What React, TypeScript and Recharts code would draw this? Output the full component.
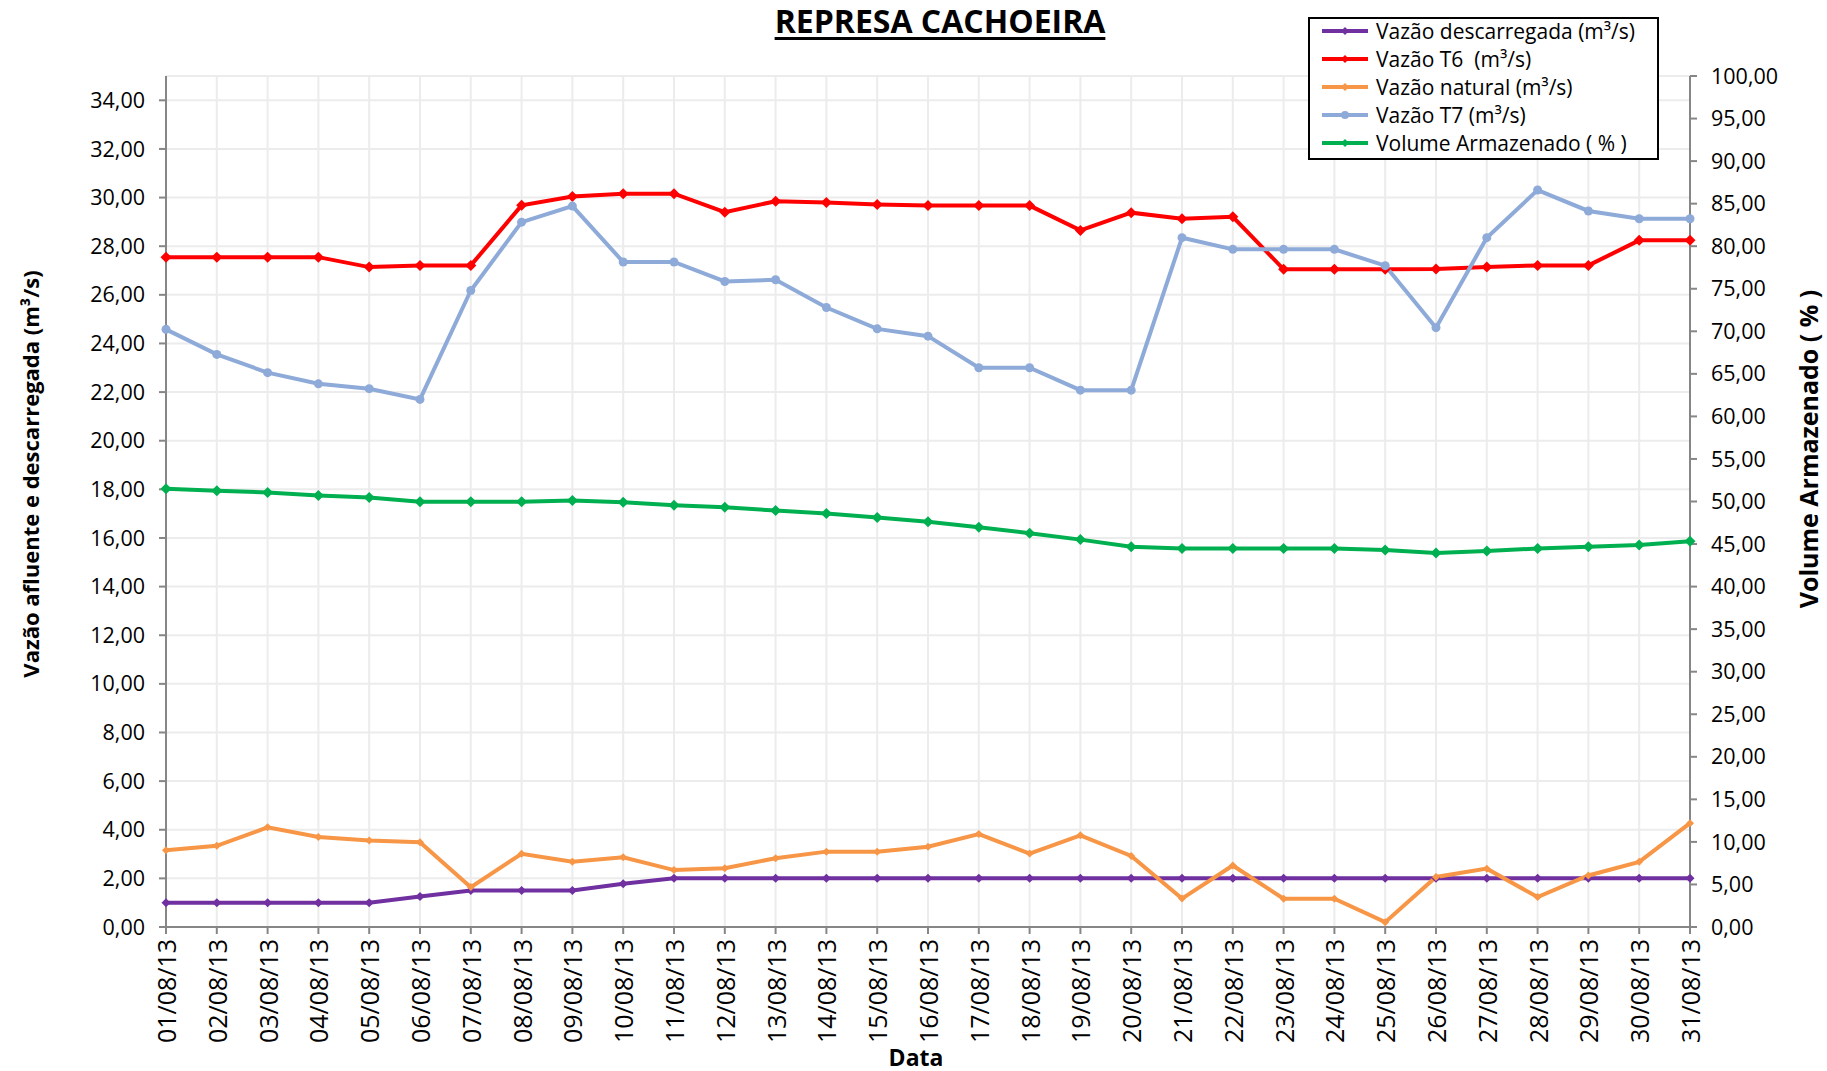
import React from 'react';
import { LineChart, Line, XAxis, YAxis, CartesianGrid } from 'recharts';

const dates = [
    '01/08/13', '02/08/13', '03/08/13', '04/08/13', '05/08/13', '06/08/13', '07/08/13', '08/08/13',
    '09/08/13', '10/08/13', '11/08/13', '12/08/13', '13/08/13', '14/08/13', '15/08/13', '16/08/13',
    '17/08/13', '18/08/13', '19/08/13', '20/08/13', '21/08/13', '22/08/13', '23/08/13', '24/08/13',
    '25/08/13', '26/08/13', '27/08/13', '28/08/13', '29/08/13', '30/08/13', '31/08/13'
];

// m³/s (left axis)
const vazaoDescarregada = [
    1.0, 1.0, 1.0, 1.0, 1.0, 1.25, 1.5, 1.5, 1.5, 1.78, 2.0, 2.0, 2.0, 2.0, 2.0, 2.0,
    2.0, 2.0, 2.0, 2.0, 2.0, 2.0, 2.0, 2.0, 2.0, 2.0, 2.0, 2.0, 2.0, 2.0, 2.0
];
const vazaoT6 = [
    27.55, 27.55, 27.55, 27.55, 27.14, 27.21, 27.21, 29.68, 30.04, 30.16, 30.16, 29.4, 29.85, 29.8, 29.72, 29.67,
    29.67, 29.67, 28.65, 29.38, 29.13, 29.21, 27.05, 27.05, 27.05, 27.06, 27.14, 27.21, 27.21, 28.24, 28.24
];
const vazaoNatural = [
    3.16, 3.34, 4.1, 3.7, 3.56, 3.49, 1.64, 3.01, 2.68, 2.87, 2.34, 2.42, 2.83, 3.1, 3.1, 3.3,
    3.82, 3.02, 3.77, 2.92, 1.17, 2.53, 1.16, 1.16, 0.2, 2.06, 2.4, 1.23, 2.12, 2.68, 4.27
];
const vazaoT7 = [
    24.58, 23.55, 22.8, 22.34, 22.14, 21.7, 26.18, 28.99, 29.65, 27.35, 27.35, 26.55, 26.62, 25.48, 24.6, 24.3,
    23.0, 23.0, 22.08, 22.08, 28.35, 27.87, 27.87, 27.87, 27.2, 24.65, 28.35, 30.31, 29.45, 29.13, 29.13
];
// % (right axis)
const volumeArmazenado = [
    51.5, 51.26, 51.06, 50.7, 50.46, 49.96, 49.96, 49.96, 50.12, 49.92, 49.57, 49.33, 48.94, 48.59, 48.12, 47.61,
    46.98, 46.28, 45.52, 44.68, 44.48, 44.48, 44.48, 44.48, 44.3, 43.95, 44.18, 44.48, 44.68, 44.88, 45.32
];

const leftTicks = [0, 2, 4, 6, 8, 10, 12, 14, 16, 18, 20, 22, 24, 26, 28, 30, 32, 34];
const rightTicks = [0, 5, 10, 15, 20, 25, 30, 35, 40, 45, 50, 55, 60, 65, 70, 75, 80, 85, 90, 95, 100];

const data = dates.map((date, i) => ({
    date,
    descarregada: vazaoDescarregada[i],
    t6: vazaoT6[i],
    natural: vazaoNatural[i],
    t7: vazaoT7[i],
    volume: volumeArmazenado[i],
}));

const FONT = '"Open Sans", "Noto Sans", sans-serif';
const AXIS_GREY = '#868686';

const series = [
    { key: 'descarregada', name: 'Vazão descarregada (m³/s)', color: '#7030a0', axis: 'left', shape: 'diamond', r: 4.5 },
    { key: 't6', name: 'Vazão T6  (m³/s)', color: '#ff0000', axis: 'left', shape: 'diamond', r: 5.5 },
    { key: 'natural', name: 'Vazão natural (m³/s)', color: '#f79646', axis: 'left', shape: 'diamond', r: 4 },
    { key: 't7', name: 'Vazão T7 (m³/s)', color: '#8eaad8', axis: 'left', shape: 'circle', r: 4.5 },
    { key: 'volume', name: 'Volume Armazenado ( % )', color: '#00b050', axis: 'right', shape: 'diamond', r: 5.5 },
];

const fmt = (v: number) => v.toFixed(2).replace('.', ',');

function Marker({ cx, cy, r, color, shape }: any) {
    if (cx == null || cy == null) return null;
    if (shape === 'circle') return <circle cx={cx} cy={cy} r={r} fill={color} />;
    return (
        <polygon
            points={`${cx},${cy - r} ${cx + r},${cy} ${cx},${cy + r} ${cx - r},${cy}`}
            fill={color}
        />
    );
}

function DateTick({ x, y, payload }: any) {
    return (
        <text
            x={x}
            y={y}
            transform={`rotate(-90, ${x}, ${y})`}
            textAnchor="end"
            dominantBaseline="central"
            fontFamily={FONT}
            fontSize={25}
            fill="#000"
        >
            {payload.value}
        </text>
    );
}

function LegendBox() {
    return (
        <div
            style={{
                position: 'absolute',
                left: 1308,
                top: 17,
                width: 351,
                height: 143,
                boxSizing: 'border-box',
                border: '2px solid #000',
                background: '#fff',
                padding: '0 0 0 10px',
                fontFamily: FONT,
                fontSize: 21,
            }}
        >
            {series.map((s, i) => (
                <div key={s.key} style={{ display: 'flex', alignItems: 'center', height: 28, marginTop: i === 0 ? -2 : 0 }}>
                    <svg width={50} height={14} style={{ marginRight: 6 }}>
                        <line x1={2} y1={7} x2={48} y2={7} stroke={s.color} strokeWidth={4} />
                        <Marker cx={25} cy={7} r={4} color={s.color} shape={s.shape} />
                    </svg>
                    <span style={{ whiteSpace: 'pre' }}>{s.name}</span>
                </div>
            ))}
        </div>
    );
}

export default function App() {
    return (
        <div style={{ position: 'relative', width: 1827, height: 1071, background: '#fff' }}>
            <style>{'body { margin: 0; }'}</style>
            <LineChart
                width={1827}
                height={1071}
                data={data}
                margin={{ top: 76, right: 0, bottom: 0, left: 0 }}
            >
                <CartesianGrid yAxisId="left" stroke="#ececec" strokeWidth={2} />
                <XAxis
                    dataKey="date"
                    scale="point"
                    interval={0}
                    height={144}
                    tick={<DateTick />}
                    tickSize={7}
                    tickMargin={5}
                    axisLine={{ stroke: AXIS_GREY, strokeWidth: 2 }}
                    tickLine={{ stroke: AXIS_GREY, strokeWidth: 2 }}
                />
                <YAxis
                    yAxisId="left"
                    orientation="left"
                    width={166}
                    domain={[0, 35]}
                    ticks={leftTicks}
                    tickFormatter={fmt}
                    tickSize={7}
                    tickMargin={14}
                    tick={{ fontFamily: FONT, fontSize: 21.5, fill: '#000' }}
                    axisLine={{ stroke: AXIS_GREY, strokeWidth: 2 }}
                    tickLine={{ stroke: AXIS_GREY, strokeWidth: 2 }}
                />
                <YAxis
                    yAxisId="right"
                    orientation="right"
                    width={137}
                    domain={[0, 100]}
                    ticks={rightTicks}
                    tickFormatter={fmt}
                    tickSize={7}
                    tickMargin={14}
                    tick={{ fontFamily: FONT, fontSize: 21.5, fill: '#000' }}
                    axisLine={{ stroke: AXIS_GREY, strokeWidth: 2 }}
                    tickLine={{ stroke: AXIS_GREY, strokeWidth: 2 }}
                />
                {series.map((s) => (
                    <Line
                        key={s.key}
                        yAxisId={s.axis}
                        type="linear"
                        dataKey={s.key}
                        name={s.name}
                        stroke={s.color}
                        strokeWidth={4}
                        dot={(p: any) => (
                            <Marker key={`${s.key}-${p.index}`} cx={p.cx} cy={p.cy} r={s.r} color={s.color} shape={s.shape} />
                        )}
                        activeDot={false}
                        isAnimationActive={false}
                    />
                ))}
            </LineChart>

            {/* title */}
            <div
                style={{
                    position: 'absolute',
                    left: 0,
                    width: 1880,
                    top: 0,
                    textAlign: 'center',
                    fontFamily: FONT,
                    fontWeight: 700,
                    fontSize: 32,
                    lineHeight: '42px',
                    textDecoration: 'underline',
                    textDecorationThickness: 3,
                    textUnderlineOffset: 4,
                }}
            >
                REPRESA CACHOEIRA
            </div>

            <LegendBox />

            {/* axis titles */}
            <div
                style={{
                    position: 'absolute',
                    left: 30,
                    top: 474,
                    transform: 'translate(-50%, -50%) rotate(-90deg)',
                    whiteSpace: 'nowrap',
                    fontFamily: FONT,
                    fontWeight: 700,
                    fontSize: 22,
                }}
            >
                Vazão afluente e descarregada (m³/s)
            </div>
            <div
                style={{
                    position: 'absolute',
                    left: 1808,
                    top: 449,
                    transform: 'translate(-50%, -50%) rotate(-90deg)',
                    whiteSpace: 'nowrap',
                    fontFamily: FONT,
                    fontWeight: 700,
                    fontSize: 25,
                }}
            >
                Volume Armazenado ( % )
            </div>
            <div
                style={{
                    position: 'absolute',
                    left: 916,
                    top: 1057,
                    transform: 'translate(-50%, -50%)',
                    fontFamily: FONT,
                    fontWeight: 700,
                    fontSize: 23,
                }}
            >
                Data
            </div>
        </div>
    );
}
